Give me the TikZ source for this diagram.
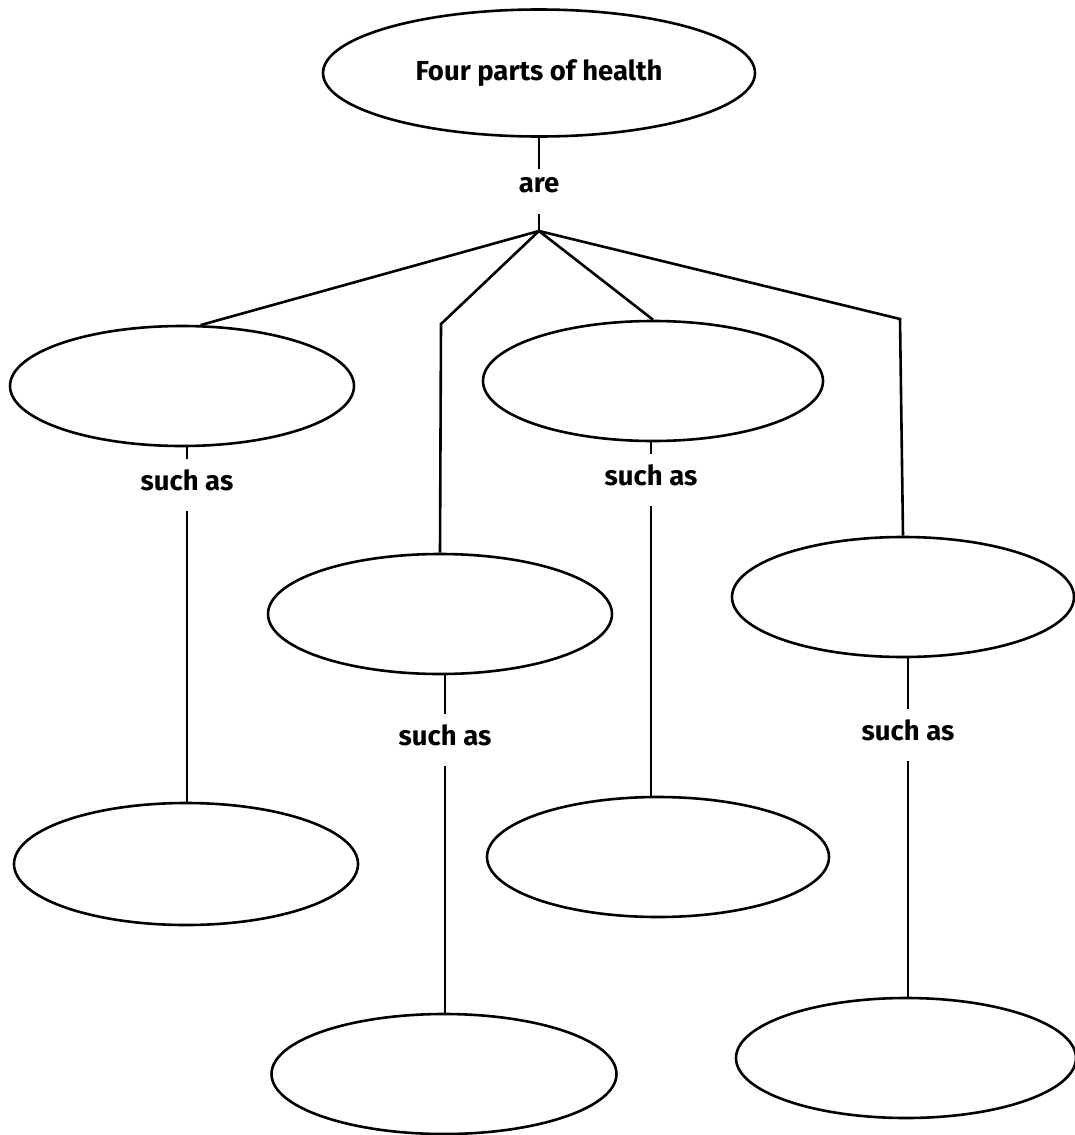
\documentclass[tikz,border=0pt]{standalone}
\usepackage{fontspec}
\setmainfont{Fira Sans}
\usetikzlibrary{shapes.geometric}
\begin{document}
\begin{tikzpicture}[x=1pt,y=-1pt,line width=2.6pt,
  txt/.style={font=\fontsize{27.5pt}{31pt}\selectfont\bfseries},
  bubble/.style={draw,ellipse,inner sep=0pt,minimum width=344pt,minimum height=120pt},
  titlebubble/.style={draw,ellipse,inner sep=0pt,minimum width=432pt,minimum height=127pt,txt},
  arelbl/.style={txt,inner sep=0pt,text height=22pt,text depth=21pt,anchor=base},
  suchlbl/.style={txt,inner sep=0pt,text height=30pt,text depth=20pt,anchor=base}]
\useasboundingbox (0,0) rectangle (1075,1135);
% title and verb
\node[titlebubble] (t) at (539,73) {Four parts of health};
\node[arelbl] (are) at (539,192) {are};
\coordinate (j) at (539,231);
\coordinate (c2) at (441,324);
\coordinate (c4) at (900,319);
% second level
\node[bubble] (e1) at (182,386) {};
\node[bubble] (e2) at (440,614) {};
\node[bubble,minimum width=340pt] (e3) at (653,381) {};
\node[bubble,minimum width=342pt] (e4) at (903,597) {};
% third level
\node[bubble,minimum height=122pt] (e5) at (186,864) {};
\node[bubble,minimum width=345pt] (e6) at (444,1074) {};
\node[bubble,minimum width=342pt] (e7) at (658,857) {};
\node[bubble,minimum width=340pt] (e8) at (906,1058) {};
% labels
\node[suchlbl] (s1) at (187,490) {such as};
\node[suchlbl] (s2) at (445,745) {such as};
\node[suchlbl] (s3) at (651,485) {such as};
\node[suchlbl] (s4) at (908,740) {such as};
% connectors
\draw (t.south) -- (are.north);
\draw (are.south) -- (j);
\draw (j) -- (e1.73);
\draw (j) -- (c2) -- (e2.north);
\draw (j) -- (e3.north);
\draw (j) -- (c4) -- (e4.north);
\draw (s1.north |- e1.south) -- (s1.north);
\draw (s1.south) -- (s1.south |- e5.north);
\draw (s2.north |- e2.south) -- (s2.north);
\draw (s2.south) -- (s2.south |- e6.north);
\draw (s3.north |- e3.south) -- (s3.north);
\draw (s3.south) -- (s3.south |- e7.north);
\draw (s4.north |- e4.south) -- (s4.north);
\draw (s4.south) -- (s4.south |- e8.north);
\end{tikzpicture}
\end{document}
